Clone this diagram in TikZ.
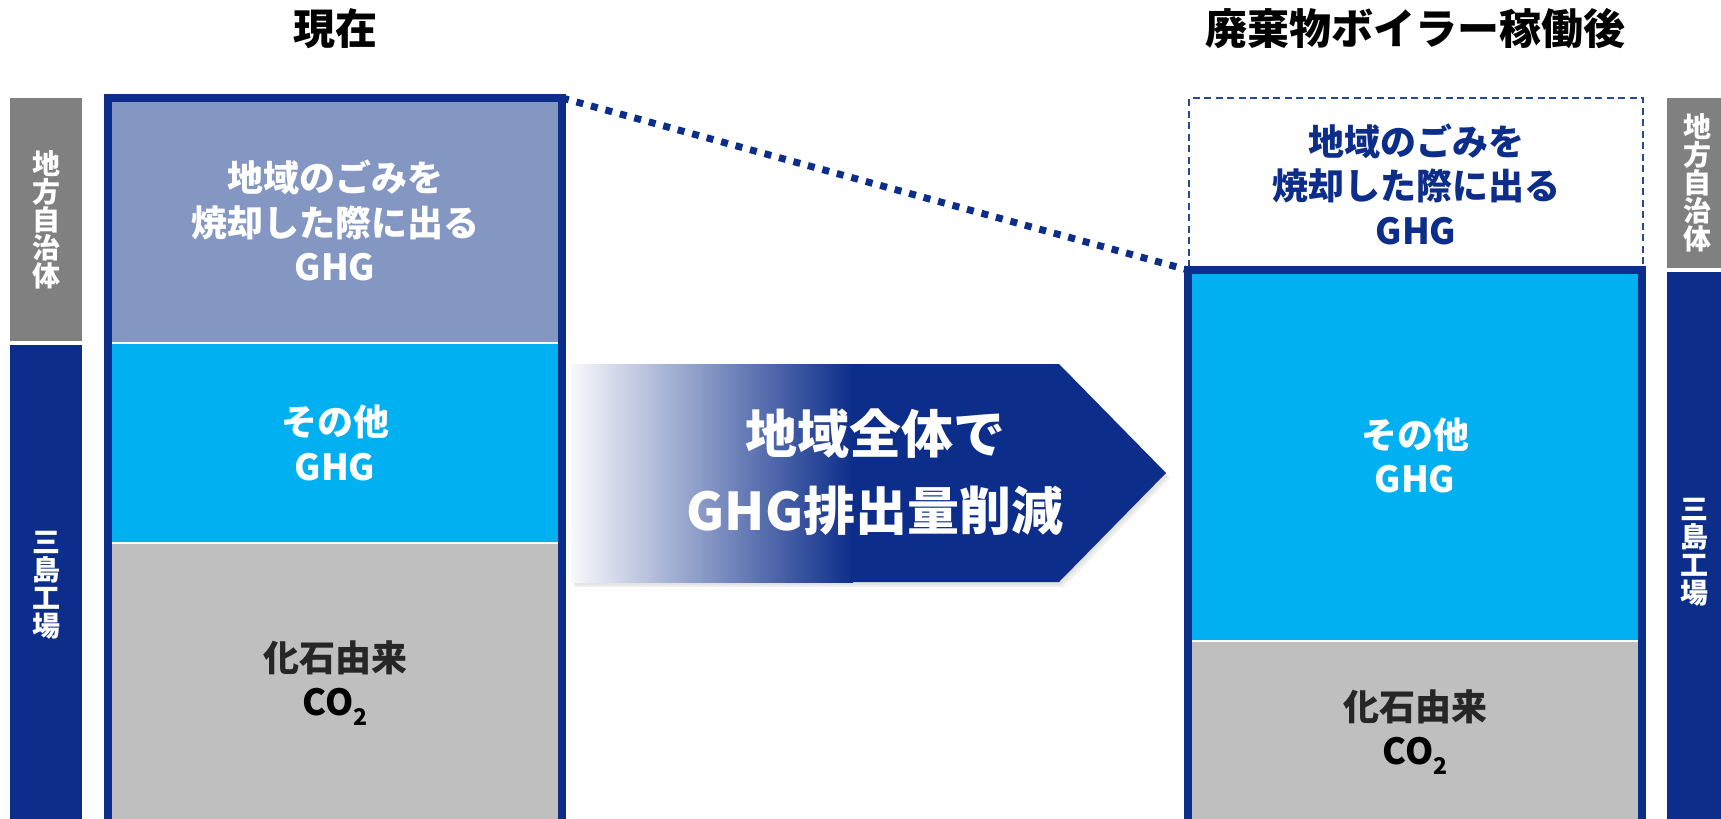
\documentclass[tikz,border=0pt]{standalone}
\usepackage{fontspec}
\setmainfont{Noto Sans CJK JP}
\definecolor{navy}{RGB}{12,45,138}
\definecolor{purp}{RGB}{132,151,195}
\definecolor{cyanb}{RGB}{0,176,240}
\definecolor{lgray}{RGB}{191,191,191}
\definecolor{sgray}{RGB}{128,128,128}
\definecolor{dashcol}{RGB}{40,72,145}
\definecolor{darktext}{RGB}{38,38,38}
\newcommand{\cotwo}{CO\raisebox{-0.28em}{\fontsize{23}{23}\selectfont 2}}
\begin{document}
\begin{tikzpicture}[x=1pt,y=-1pt,
  block/.style={anchor=north west,inner sep=0pt,outer sep=0pt,minimum width=454pt,align=center,
     font=\fontsize{36}{44.5}\selectfont\bfseries},
  sidebar/.style={anchor=north west,inner sep=0pt,outer sep=0pt,align=center,text=white,
     font=\fontsize{28}{28}\selectfont\bfseries},
  title/.style={font=\fontsize{42}{42}\selectfont\bfseries,text=black},
  arrowtext/.style={align=center,text=white,font=\fontsize{52}{77}\selectfont\bfseries},
  sep/.style={white,line width=2pt},
  border/.style={navy,line width=7.5pt}]
\useasboundingbox (0,0) rectangle (1721,819);
\fill[white] (0,0) rectangle (1721,819);

% titles
\node[title] (t1) at (335,29) {現在};
\node[title] (t2) at (1415,29) {廃棄物ボイラー稼働後};

% left side bars
\node[sidebar,fill=sgray,minimum width=72pt,minimum height=243pt] (lmun) at (10,98) {地\\方\\自\\治\\体};
\node[sidebar,fill=navy,minimum width=72pt,minimum height=480pt] (lfac) at (10,345) {三\\島\\工\\場};

% right side bars
\node[sidebar,fill=sgray,minimum width=60pt,minimum height=170pt] (rmun) at (1667,98) {地\\方\\自\\治\\体};
\node[sidebar,fill=navy,minimum width=60pt,minimum height=560pt] (rfac) at (1667,272) {};
\node[sidebar,anchor=center] (rfact) at ([xshift=-3pt]rfac.center) {三\\島\\工\\場};

% left box
\node[block,fill=purp,text=white,minimum height=245pt] (lpur) at (108,98) {地域のごみを\\焼却した際に出る\\GHG};
\node[block,fill=cyanb,text=white,minimum height=200pt] (lcya) at (108,343) {その他\\GHG};
\node[block,fill=lgray,text=darktext,minimum height=280pt] (lgry) at (108,543) {化石由来\\{\color{black}\cotwo}};
\draw[sep] (lpur.south west) -- (lpur.south east);
\draw[sep] (lcya.south west) -- (lcya.south east);
\draw[border] (lpur.north west) rectangle (lgry.south east);

% right box
\node[block,draw=dashcol,line width=1.8pt,dash pattern=on 7pt off 4.5pt,text=navy,minimum height=172pt] (rdash) at (1189,98) {地域のごみを\\焼却した際に出る\\GHG};
\node[block,fill=cyanb,text=white,minimum height=371pt] (rcya) at (1188,270) {その他\\GHG};
\node[block,fill=lgray,text=darktext,minimum height=182pt] (rgry) at (1188,641) {化石由来\\{\color{black}\cotwo}};
\draw[sep] (rcya.south west) -- (rcya.south east);
\draw[border] (rcya.north west) rectangle (rgry.south east);

% dotted connector
\draw[navy,line width=7pt,dash pattern=on 7pt off 8pt] (lpur.north east) -- (rcya.north west);

% arrow
\coordinate (a1) at (571,364);
\coordinate (a2) at (1059,364);
\coordinate (a3) at (1166,473);
\coordinate (a4) at (1059,582);
\coordinate (a5) at (571,582);
\fill[black,opacity=0.06] ([shift={(4,5)}]a1) -- ([shift={(4,5)}]a2) -- ([shift={(4,5)}]a3) -- ([shift={(4,5)}]a4) -- ([shift={(4,5)}]a5) -- cycle;
\fill[black,opacity=0.05] ([shift={(2,3)}]a1) -- ([shift={(2,3)}]a2) -- ([shift={(2,3)}]a3) -- ([shift={(2,3)}]a4) -- ([shift={(2,3)}]a5) -- cycle;
\fill[navy] (a1) -- (a2) -- (a3) -- (a4) -- (a5) -- cycle;
\shade[left color=white!97!navy,right color=navy] (571,364) rectangle (853,582);
\node[arrowtext] (arr) at (875,472) {地域全体で\\GHG排出量削減};
\end{tikzpicture}
\end{document}
